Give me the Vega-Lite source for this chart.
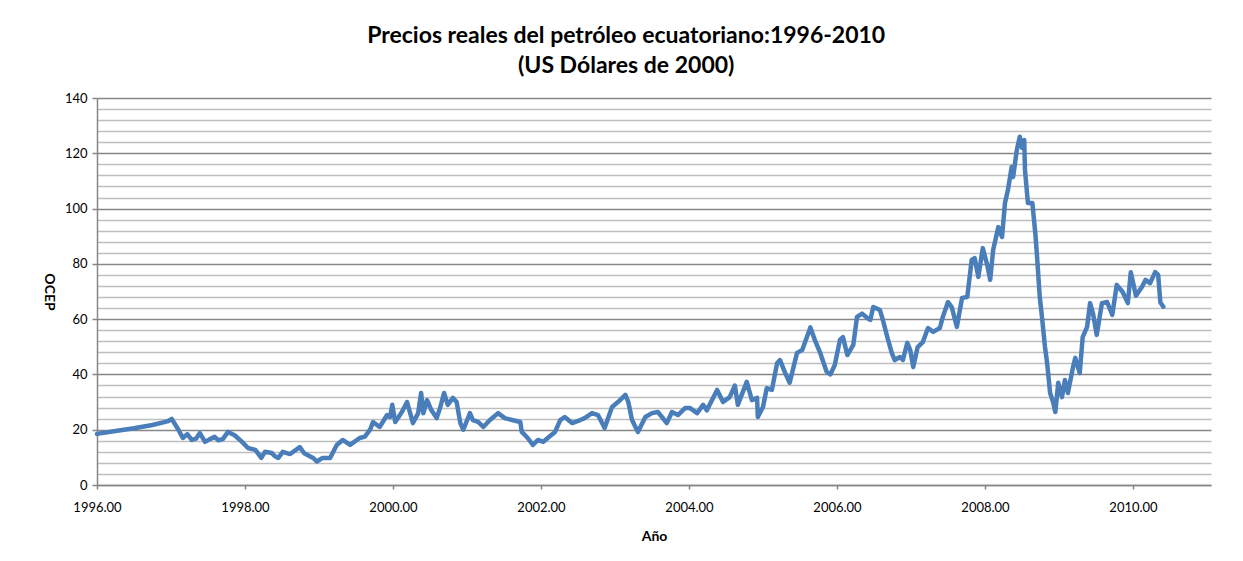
{
  "$schema": "https://vega.github.io/schema/vega-lite/v6.json",
  "autosize": {"type": "none"},
  "width": 1114,
  "height": 387,
  "padding": {"left": 97, "top": 98, "right": 32, "bottom": 76},
  "background": "white",
  "title": {
    "text": ["Precios reales del petróleo ecuatoriano:1996-2010", "(US Dólares de 2000)"],
    "font": "Lato",
    "fontSize": 23,
    "fontWeight": "bold",
    "lineHeight": 30,
    "color": "#000000",
    "anchor": "middle",
    "frame": "bounds",
    "offset": 14
  },
  "config": {
    "view": {"stroke": null},
    "axis": {"labelFont": "Lato", "titleFont": "Lato"}
  },
  "data": {
    "values": [
      {"t": 1996.00, "p": 18.5}, {"t": 1996.25, "p": 19.5}, {"t": 1996.50, "p": 20.5}, {"t": 1996.75, "p": 21.7},
      {"t": 1996.95, "p": 23.0}, {"t": 1997.01, "p": 23.9}, {"t": 1997.10, "p": 20.0}, {"t": 1997.16, "p": 17.0},
      {"t": 1997.22, "p": 18.4}, {"t": 1997.28, "p": 16.3}, {"t": 1997.34, "p": 16.8}, {"t": 1997.39, "p": 18.8},
      {"t": 1997.46, "p": 15.6}, {"t": 1997.52, "p": 16.5}, {"t": 1997.59, "p": 17.4}, {"t": 1997.64, "p": 16.2},
      {"t": 1997.70, "p": 16.6}, {"t": 1997.77, "p": 19.2}, {"t": 1997.86, "p": 18.0}, {"t": 1997.96, "p": 15.6},
      {"t": 1998.04, "p": 13.4}, {"t": 1998.14, "p": 12.7}, {"t": 1998.22, "p": 9.8}, {"t": 1998.27, "p": 12.0},
      {"t": 1998.36, "p": 11.6}, {"t": 1998.40, "p": 10.5}, {"t": 1998.45, "p": 9.8}, {"t": 1998.51, "p": 12.0},
      {"t": 1998.61, "p": 11.2}, {"t": 1998.74, "p": 13.7}, {"t": 1998.80, "p": 11.5}, {"t": 1998.92, "p": 9.8},
      {"t": 1998.97, "p": 8.5}, {"t": 1999.05, "p": 9.8}, {"t": 1999.15, "p": 9.8}, {"t": 1999.24, "p": 14.5},
      {"t": 1999.32, "p": 16.3}, {"t": 1999.42, "p": 14.5}, {"t": 1999.55, "p": 17.0}, {"t": 1999.62, "p": 17.5},
      {"t": 1999.69, "p": 20.0}, {"t": 1999.73, "p": 22.8}, {"t": 1999.82, "p": 21.0}, {"t": 1999.92, "p": 25.3},
      {"t": 1999.96, "p": 24.6}, {"t": 1999.99, "p": 29.0}, {"t": 2000.03, "p": 22.8}, {"t": 2000.12, "p": 26.4},
      {"t": 2000.19, "p": 30.0}, {"t": 2000.27, "p": 22.4}, {"t": 2000.34, "p": 26.0}, {"t": 2000.38, "p": 33.3},
      {"t": 2000.41, "p": 26.0}, {"t": 2000.46, "p": 30.7}, {"t": 2000.52, "p": 27.0}, {"t": 2000.59, "p": 24.2},
      {"t": 2000.64, "p": 28.2}, {"t": 2000.69, "p": 33.3}, {"t": 2000.74, "p": 29.0}, {"t": 2000.81, "p": 31.5},
      {"t": 2000.86, "p": 30.0}, {"t": 2000.91, "p": 22.4}, {"t": 2000.95, "p": 20.0}, {"t": 2001.04, "p": 26.0},
      {"t": 2001.08, "p": 23.5}, {"t": 2001.15, "p": 22.8}, {"t": 2001.22, "p": 21.0}, {"t": 2001.31, "p": 23.5},
      {"t": 2001.42, "p": 26.0}, {"t": 2001.51, "p": 24.2}, {"t": 2001.61, "p": 23.5}, {"t": 2001.72, "p": 22.8},
      {"t": 2001.74, "p": 19.2}, {"t": 2001.82, "p": 17.0}, {"t": 2001.89, "p": 14.5}, {"t": 2001.96, "p": 16.3},
      {"t": 2002.03, "p": 15.6}, {"t": 2002.09, "p": 17.0}, {"t": 2002.19, "p": 19.2}, {"t": 2002.26, "p": 23.5},
      {"t": 2002.32, "p": 24.6}, {"t": 2002.42, "p": 22.4}, {"t": 2002.53, "p": 23.5}, {"t": 2002.59, "p": 24.2},
      {"t": 2002.69, "p": 26.0}, {"t": 2002.77, "p": 25.3}, {"t": 2002.86, "p": 20.6}, {"t": 2002.96, "p": 28.2},
      {"t": 2003.04, "p": 30.0}, {"t": 2003.14, "p": 32.6}, {"t": 2003.18, "p": 30.0}, {"t": 2003.23, "p": 23.5},
      {"t": 2003.31, "p": 19.2}, {"t": 2003.41, "p": 24.6}, {"t": 2003.50, "p": 26.0}, {"t": 2003.58, "p": 26.4},
      {"t": 2003.70, "p": 22.4}, {"t": 2003.77, "p": 26.4}, {"t": 2003.85, "p": 25.3}, {"t": 2003.95, "p": 27.9},
      {"t": 2004.01, "p": 27.9}, {"t": 2004.11, "p": 26.0}, {"t": 2004.19, "p": 29.0}, {"t": 2004.24, "p": 27.0},
      {"t": 2004.38, "p": 34.4}, {"t": 2004.46, "p": 30.0}, {"t": 2004.55, "p": 31.8}, {"t": 2004.62, "p": 36.0},
      {"t": 2004.66, "p": 29.0}, {"t": 2004.78, "p": 37.3}, {"t": 2004.85, "p": 30.7}, {"t": 2004.92, "p": 31.5},
      {"t": 2004.93, "p": 24.6}, {"t": 2005.00, "p": 28.2}, {"t": 2005.05, "p": 35.0}, {"t": 2005.12, "p": 34.4},
      {"t": 2005.19, "p": 44.0}, {"t": 2005.23, "p": 45.2}, {"t": 2005.30, "p": 40.5}, {"t": 2005.36, "p": 37.0},
      {"t": 2005.46, "p": 47.8}, {"t": 2005.53, "p": 48.8}, {"t": 2005.64, "p": 57.0}, {"t": 2005.70, "p": 52.5},
      {"t": 2005.77, "p": 48.0}, {"t": 2005.86, "p": 41.0}, {"t": 2005.91, "p": 40.0}, {"t": 2005.97, "p": 43.4},
      {"t": 2006.04, "p": 52.5}, {"t": 2006.08, "p": 53.5}, {"t": 2006.14, "p": 47.0}, {"t": 2006.22, "p": 50.7},
      {"t": 2006.27, "p": 60.8}, {"t": 2006.34, "p": 62.0}, {"t": 2006.41, "p": 60.4}, {"t": 2006.45, "p": 59.7},
      {"t": 2006.49, "p": 64.4}, {"t": 2006.58, "p": 63.3}, {"t": 2006.62, "p": 59.7}, {"t": 2006.68, "p": 53.5},
      {"t": 2006.74, "p": 47.8}, {"t": 2006.78, "p": 45.2}, {"t": 2006.85, "p": 46.3}, {"t": 2006.89, "p": 45.2},
      {"t": 2006.95, "p": 51.4}, {"t": 2006.99, "p": 48.8}, {"t": 2007.03, "p": 42.7}, {"t": 2007.09, "p": 49.9},
      {"t": 2007.16, "p": 51.7}, {"t": 2007.23, "p": 56.8}, {"t": 2007.30, "p": 55.4}, {"t": 2007.39, "p": 56.8},
      {"t": 2007.43, "p": 60.8}, {"t": 2007.50, "p": 66.2}, {"t": 2007.55, "p": 64.4}, {"t": 2007.62, "p": 57.2},
      {"t": 2007.69, "p": 67.7}, {"t": 2007.76, "p": 68.0}, {"t": 2007.82, "p": 81.4}, {"t": 2007.86, "p": 82.1},
      {"t": 2007.91, "p": 75.3}, {"t": 2007.97, "p": 85.7}, {"t": 2008.03, "p": 79.6}, {"t": 2008.07, "p": 74.2},
      {"t": 2008.11, "p": 85.0}, {"t": 2008.18, "p": 93.3}, {"t": 2008.23, "p": 89.7}, {"t": 2008.27, "p": 102.0},
      {"t": 2008.31, "p": 106.7}, {"t": 2008.36, "p": 115.0}, {"t": 2008.38, "p": 111.4}, {"t": 2008.43, "p": 121.2},
      {"t": 2008.47, "p": 126.0}, {"t": 2008.50, "p": 122.0}, {"t": 2008.53, "p": 124.8}, {"t": 2008.54, "p": 114.0},
      {"t": 2008.58, "p": 102.0}, {"t": 2008.64, "p": 102.0}, {"t": 2008.68, "p": 91.0}, {"t": 2008.70, "p": 84.0},
      {"t": 2008.74, "p": 68.0}, {"t": 2008.77, "p": 60.8}, {"t": 2008.81, "p": 50.0}, {"t": 2008.84, "p": 44.0},
      {"t": 2008.88, "p": 33.3}, {"t": 2008.92, "p": 30.0}, {"t": 2008.95, "p": 26.4}, {"t": 2008.99, "p": 37.0},
      {"t": 2009.04, "p": 31.8}, {"t": 2009.08, "p": 38.0}, {"t": 2009.12, "p": 33.3}, {"t": 2009.19, "p": 42.7},
      {"t": 2009.22, "p": 46.0}, {"t": 2009.28, "p": 40.5}, {"t": 2009.32, "p": 53.5}, {"t": 2009.38, "p": 57.2},
      {"t": 2009.42, "p": 65.8}, {"t": 2009.46, "p": 62.0}, {"t": 2009.51, "p": 54.3}, {"t": 2009.58, "p": 65.8},
      {"t": 2009.65, "p": 66.2}, {"t": 2009.72, "p": 61.5}, {"t": 2009.78, "p": 72.4}, {"t": 2009.86, "p": 69.8},
      {"t": 2009.93, "p": 65.8}, {"t": 2009.97, "p": 77.0}, {"t": 2010.04, "p": 68.5}, {"t": 2010.12, "p": 71.6},
      {"t": 2010.17, "p": 74.2}, {"t": 2010.23, "p": 73.0}, {"t": 2010.30, "p": 77.0}, {"t": 2010.34, "p": 76.0},
      {"t": 2010.37, "p": 66.0}, {"t": 2010.41, "p": 64.5}
    ]
  },
  "mark": {"type": "line", "color": "#4A7EBB", "strokeWidth": 4.5, "strokeJoin": "round", "strokeCap": "round"},
  "encoding": {
    "x": {
      "field": "t",
      "type": "quantitative",
      "scale": {"domain": [1996, 2011.054], "nice": false, "zero": false},
      "axis": {
        "title": "Año",
        "titleFontSize": 14,
        "titleFontWeight": "bold",
        "titleColor": "#000000",
        "titlePadding": 15,
        "values": [1996, 1998, 2000, 2002, 2004, 2006, 2008, 2010],
        "format": ".2f",
        "labelFontSize": 13,
        "labelColor": "#000000",
        "labelPadding": 12,
        "labelFlush": false,
        "grid": false,
        "domainColor": "#868686",
        "domainWidth": 1.5,
        "tickColor": "#868686",
        "tickWidth": 1.5,
        "tickSize": 4
      }
    },
    "y": {
      "field": "p",
      "type": "quantitative",
      "scale": {"domain": [0, 140], "nice": false},
      "axis": {
        "title": "OCEP",
        "titleAngle": 90,
        "titleFontSize": 14,
        "titleFontWeight": "bold",
        "titleColor": "#000000",
        "titlePadding": 23,
        "values": [0, 4, 8, 12, 16, 20, 24, 28, 32, 36, 40, 44, 48, 52, 56, 60, 64, 68, 72, 76, 80, 84, 88, 92, 96, 100, 104, 108, 112, 116, 120, 124, 128, 132, 136, 140],
        "labelExpr": "datum.value % 20 === 0 ? datum.label : ''",
        "labelFontSize": 13,
        "labelColor": "#000000",
        "labelPadding": 5,
        "grid": true,
        "gridColor": {"condition": {"test": "datum.value % 20 === 0", "value": "#868686"}, "value": "#BEBEBE"},
        "gridWidth": 1.5,
        "domainColor": "#868686",
        "domainWidth": 1.5,
        "tickColor": "#868686",
        "tickWidth": 1.5,
        "tickSize": 5,
        "tickOpacity": {"condition": {"test": "datum.value % 20 === 0", "value": 1}, "value": 0}
      }
    }
  }
}
